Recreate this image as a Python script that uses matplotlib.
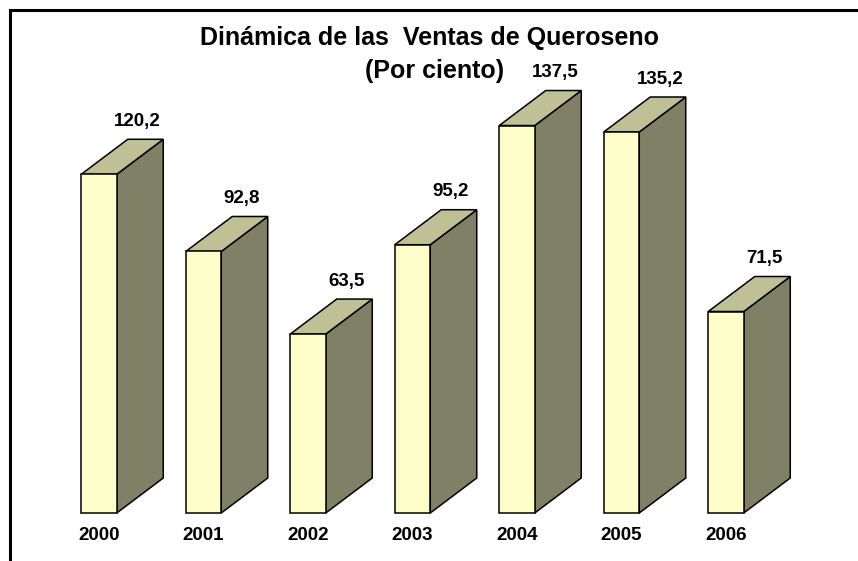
import matplotlib
matplotlib.use("Agg")
import matplotlib.pyplot as plt
from matplotlib.patches import Polygon
from matplotlib.lines import Line2D

years = ["2000", "2001", "2002", "2003", "2004", "2005", "2006"]
values = [120.2, 92.8, 63.5, 95.2, 137.5, 135.2, 71.5]
value_labels = ["120,2", "92,8", "63,5", "95,2", "137,5", "135,2", "71,5"]

W, H, DPI = 858, 561, 100
fig = plt.figure(figsize=(W / DPI, H / DPI), dpi=DPI)
fig.patch.set_facecolor("white")

# pixel geometry
x0_px = 99.0      # center of first bar front
step_px = 104.5
base_px = 513.0   # baseline from top
py_per_unit = 2.818
ax = fig.add_axes([0, 0, 1, 1])
ax.set_xlim(-x0_px / step_px, (W - x0_px) / step_px)
ybot = -(H - base_px) / py_per_unit
ax.set_ylim(ybot, ybot + H / py_per_unit)
ax.axis("off")

bw = 35.5 / step_px
dx = 46.5 / step_px
dy = 35.0 / py_per_unit

front_c = "#FFFFCC"
side_c = "#808066"
top_c = "#C0C096"
lw = 1.1

font = "Liberation Sans"
for i, (v, lab) in enumerate(zip(values, value_labels)):
    xl, xr = i - bw / 2, i + bw / 2
    ax.add_patch(Polygon([(xr, 0), (xr + dx, dy), (xr + dx, v + dy), (xr, v)],
                         closed=True, facecolor=side_c, edgecolor="black", lw=lw, zorder=2))
    ax.add_patch(Polygon([(xl, v), (xr, v), (xr + dx, v + dy), (xl + dx, v + dy)],
                         closed=True, facecolor=top_c, edgecolor="black", lw=lw, zorder=2))
    ax.bar(i, v, width=bw, bottom=0, color=front_c, edgecolor="black", lw=lw, zorder=3)
    ax.text(i + 38.5 / step_px, v + 53.0 / py_per_unit, lab, ha="center", va="center",
            fontsize=13.5, fontweight="bold", family=font, zorder=4)
    ax.text(i, -23.0 / py_per_unit, years[i], ha="center", va="center",
            fontsize=13.5, fontweight="bold", family=font, zorder=4)

fig.text(429 / W, 1 - 37.5 / H, "Dinámica de las  Ventas de Queroseno", ha="center", va="center",
         fontsize=18, fontweight="bold", family=font)
fig.text(435 / W, 1 - 71 / H, "(Por ciento)", ha="center", va="center",
         fontsize=18, fontweight="bold", family=font)

# frame (cropped)
fig.add_artist(Line2D([9.5 / W, 1.0], [1 - 9.5 / H, 1 - 9.5 / H], color="black", lw=2.2,
                      transform=fig.transFigure, solid_capstyle="projecting"))
fig.add_artist(Line2D([9.5 / W, 9.5 / W], [1 - 9.5 / H, 0.0], color="black", lw=2.2,
                      transform=fig.transFigure, solid_capstyle="projecting"))

fig.savefig("out.png", dpi=DPI)
